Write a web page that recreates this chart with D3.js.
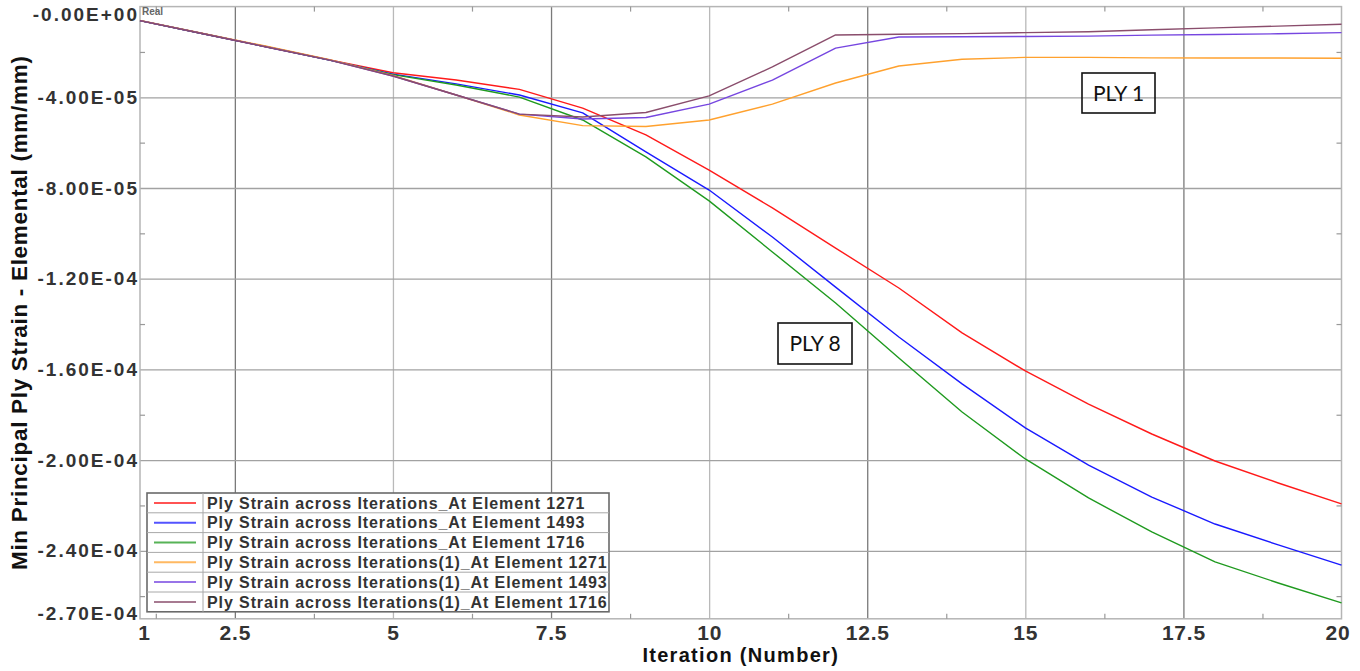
<!DOCTYPE html>
<html><head><meta charset="utf-8">
<script src="https://cdn.jsdelivr.net/npm/d3@7"></script>
<style>body{margin:0;background:#fff;} svg{display:block;}</style>
</head><body><svg id="chart" width="1360" height="671"></svg>
<script>
// ---------- data ----------
const iterations = [1,2,3,4,5,6,7,8,9,10,11,12,13,14,15,16,17,18,19,20];
const seriesNames = [
  "Ply Strain across Iterations_At Element 1271",
  "Ply Strain across Iterations_At Element 1493",
  "Ply Strain across Iterations_At Element 1716",
  "Ply Strain across Iterations(1)_At Element 1271",
  "Ply Strain across Iterations(1)_At Element 1493",
  "Ply Strain across Iterations(1)_At Element 1716"
];
const ply8_1271 = [-6.2e-6,-12.0e-6,-17.7e-6,-23.5e-6,-29.2e-6,-32.4e-6,-36.5e-6,-44.8e-6,-56.6e-6,-72.1e-6,-88.8e-6,-106.5e-6,-124.1e-6,-143.9e-6,-160.7e-6,-175.3e-6,-188.5e-6,-200.4e-6,-210.1e-6,-219.3e-6];
const ply8_1493 = [-6.2e-6,-12.0e-6,-17.7e-6,-23.6e-6,-29.8e-6,-34.1e-6,-39.0e-6,-46.9e-6,-64.1e-6,-80.9e-6,-101.6e-6,-123.7e-6,-145.7e-6,-166.4e-6,-185.8e-6,-202.2e-6,-216.3e-6,-228.2e-6,-237.4e-6,-246.3e-6];
const ply8_1716 = [-6.2e-6,-12.0e-6,-17.7e-6,-23.6e-6,-30.0e-6,-34.6e-6,-39.9e-6,-50.0e-6,-66.3e-6,-85.7e-6,-108.2e-6,-130.7e-6,-155.0e-6,-178.8e-6,-199.5e-6,-216.7e-6,-231.7e-6,-244.9e-6,-254.2e-6,-263.0e-6];
const ply1_1271 = [-6.1e-6,-11.8e-6,-17.5e-6,-23.4e-6,-30.4e-6,-39.0e-6,-47.8e-6,-52.5e-6,-52.9e-6,-50.0e-6,-43.0e-6,-33.7e-6,-26.2e-6,-23.2e-6,-22.4e-6,-22.4e-6,-22.6e-6,-22.7e-6,-22.7e-6,-22.8e-6];
const ply1_1493 = [-6.2e-6,-12.0e-6,-17.8e-6,-23.6e-6,-30.6e-6,-39.0e-6,-47.4e-6,-49.6e-6,-48.9e-6,-43.0e-6,-32.4e-6,-18.3e-6,-13.4e-6,-13.3e-6,-13.2e-6,-13.0e-6,-12.6e-6,-12.3e-6,-12.0e-6,-11.5e-6];
const ply1_1716 = [-6.2e-6,-12.0e-6,-17.8e-6,-23.6e-6,-30.6e-6,-39.0e-6,-47.4e-6,-48.7e-6,-46.7e-6,-39.4e-6,-26.6e-6,-12.5e-6,-12.2e-6,-11.9e-6,-11.5e-6,-11.1e-6,-10.2e-6,-9.4e-6,-8.6e-6,-7.8e-6];
const seriesValues = [ply8_1271, ply8_1493, ply8_1716, ply1_1271, ply1_1493, ply1_1716];

const xTickValues = [1,2.5,5,7.5,10,12.5,15,17.5,20];
const xTickLabels = ["1","2.5","5","7.5","10","12.5","15","17.5","20"];
const xMinorTicks = [1.25,3.75,6.25,8.75,11.25,13.75,16.25,18.75];
const yTickValues = [0,-4e-5,-8e-5,-1.2e-4,-1.6e-4,-2.0e-4,-2.4e-4,-2.7e-4];
const yTickLabels = ["-0.00E+00","-4.00E-05","-8.00E-05","-1.20E-04","-1.60E-04","-2.00E-04","-2.40E-04","-2.70E-04"];
const yMinorTicks = [-2e-5,-6e-5,-1.0e-4,-1.4e-4,-1.8e-4,-2.2e-4,-2.6e-4];
const xGridValues = [2.5,5,7.5,10,12.5,15,17.5];
const yGridValues = [-4e-5,-8e-5,-1.2e-4,-1.6e-4,-2.0e-4,-2.4e-4];

// ---------- styles ----------
const colors = ["#ff1a1a","#1a1aff","#1f9a1f","#ffa12e","#7646e0","#8a4d6c"];
const L = 140, R = 1341.5, T = 6.6, B = 618.8;
const W = R - L, H = B - T;

const svg = d3.select("#chart");
const g = svg.append("g").attr("transform", `translate(${L},${T})`);

const x = d3.scaleLinear().domain([1,20]).range([0,W]);
const y = d3.scaleLinear().domain([0,-2.7e-4]).range([0,H]);

// grid
const gx = g.append("g").attr("transform",`translate(0,${H})`)
  .call(d3.axisBottom(x).tickValues(xGridValues).tickSize(-H).tickFormat(""));
gx.select(".domain").remove();
gx.selectAll(".tick line")
  .attr("stroke", d => (d % 5 === 0) ? "#b9b9b9" : "#7a7a7a")
  .attr("stroke-width", 1.3);

const gy = g.append("g")
  .call(d3.axisLeft(y).tickValues(yGridValues).tickSize(-W).tickFormat(""));
gy.select(".domain").remove();
gy.selectAll(".tick line").attr("stroke","#a2a2a2").attr("stroke-width",1.3);

// frame
g.append("rect").attr("x",0).attr("y",0).attr("width",W).attr("height",H)
  .attr("fill","none").attr("stroke","#b5b5b5").attr("stroke-width",1.5);

// minor ticks (inside)
function minor(axisGen, tr){
  const a = g.append("g").attr("transform",tr).call(axisGen);
  a.select(".domain").remove();
  a.selectAll("text").remove();
  a.selectAll(".tick line").attr("stroke","#999").attr("stroke-width",1.2);
}
minor(d3.axisBottom(x).tickValues(xMinorTicks).tickSize(-5), `translate(0,${H})`);
minor(d3.axisTop(x).tickValues(xMinorTicks).tickSize(-5), `translate(0,0)`);
minor(d3.axisLeft(y).tickValues(yMinorTicks).tickSize(-5), `translate(0,0)`);
minor(d3.axisRight(y).tickValues(yMinorTicks).tickSize(-5), `translate(${W},0)`);

// lines
const line = d3.line().x((d,i)=>x(iterations[i])).y(d=>y(d));
seriesValues.forEach((vals,k)=>{
  g.append("path").datum(vals).attr("d",line)
    .attr("fill","none").attr("stroke",colors[k]).attr("stroke-width",1.4)
    .attr("stroke-linejoin","round");
});

// axes labels
const xa = g.append("g").attr("transform",`translate(0,${H})`)
  .call(d3.axisBottom(x).tickValues(xTickValues).tickSize(0).tickPadding(5)
    .tickFormat((d,i)=>xTickLabels[i]));
xa.select(".domain").remove();
xa.selectAll("text")
  .attr("font-family","'Liberation Sans', Arial, sans-serif")
  .attr("font-weight","bold").attr("font-size","21px")
  .attr("letter-spacing","0.8px").attr("fill","#333")
  .attr("dy","0.75em");
xa.selectAll(".tick").filter(d=>d===1).select("text").attr("dx","4px");
xa.selectAll(".tick").filter(d=>d===20).select("text").attr("dx","-4px");

const ya = g.append("g")
  .call(d3.axisLeft(y).tickValues(yTickValues).tickSize(0).tickPadding(1)
    .tickFormat((d,i)=>yTickLabels[i]));
ya.select(".domain").remove();
ya.selectAll("text")
  .attr("font-family","'Liberation Sans', Arial, sans-serif")
  .attr("font-weight","bold").attr("font-size","19px")
  .attr("letter-spacing","2px").attr("fill","#333");
ya.selectAll(".tick").filter(d=>d===0).select("text").attr("dy","0.75em");
ya.selectAll(".tick").filter(d=>d===-2.7e-4).select("text").attr("dy","0.05em");

// titles
svg.append("text").attr("x", L + W/2).attr("y", 662)
  .attr("text-anchor","middle")
  .attr("font-family","'Liberation Sans', Arial, sans-serif")
  .attr("font-weight","bold").attr("font-size","20px").attr("letter-spacing","1.3px")
  .attr("fill","#111").text("Iteration (Number)");

svg.append("text")
  .attr("transform",`translate(27,${T + H/2}) rotate(-90)`)
  .attr("text-anchor","middle")
  .attr("font-family","'Liberation Sans', Arial, sans-serif")
  .attr("font-weight","bold").attr("font-size","22.5px").attr("letter-spacing","0.7px")
  .attr("fill","#111").text("Min Principal Ply Strain - Elemental (mm/mm)");

// "Real" tag
svg.append("text").attr("x", L + 2).attr("y", 15)
  .attr("font-family","'Liberation Sans', Arial, sans-serif")
  .attr("font-weight","bold").attr("font-size","10px").attr("fill","#666").text("Real");

// legend
const lg = svg.append("g").attr("transform","translate(147,493)");
const lw = 462, rowH = 19.8, nRows = seriesNames.length;
lg.append("rect").attr("width",lw).attr("height",rowH*nRows)
  .attr("fill","#fff").attr("stroke","#6a6a6a").attr("stroke-width",1.6);
for (let k=1;k<nRows;k++){
  lg.append("line").attr("x1",0).attr("x2",lw).attr("y1",k*rowH).attr("y2",k*rowH)
    .attr("stroke","#a8a8a8").attr("stroke-width",1);
}
lg.append("line").attr("x1",56).attr("x2",56).attr("y1",0).attr("y2",rowH*nRows)
  .attr("stroke","#a8a8a8").attr("stroke-width",1);
seriesNames.forEach((name,k)=>{
  const cy = k*rowH + rowH/2;
  lg.append("line").attr("x1",7).attr("x2",49).attr("y1",cy).attr("y2",cy)
    .attr("stroke",colors[k]).attr("stroke-width",2).attr("stroke-opacity",0.75);
  lg.append("text").attr("x",60).attr("y",cy).attr("dy","0.36em")
    .attr("font-family","'Liberation Sans', Arial, sans-serif")
    .attr("font-weight","bold").attr("font-size","16px").attr("letter-spacing","0.9px")
    .attr("fill","#333").text(name);
});

// annotations
function note(label, bx, by, bw, bh){
  svg.append("rect").attr("x",bx).attr("y",by).attr("width",bw).attr("height",bh)
    .attr("fill","none").attr("stroke","#111").attr("stroke-width",1.6);
  svg.append("text").attr("x",bx+bw/2).attr("y",by+bh/2).attr("dy","0.36em")
    .attr("text-anchor","middle").attr("font-family","Lato, 'Open Sans', sans-serif")
    .attr("font-size","21px").attr("fill","#111").text(label);
}
note("PLY 1", 1082, 73, 73, 40);
note("PLY 8", 778, 323, 74, 41);
</script>
</body></html>
